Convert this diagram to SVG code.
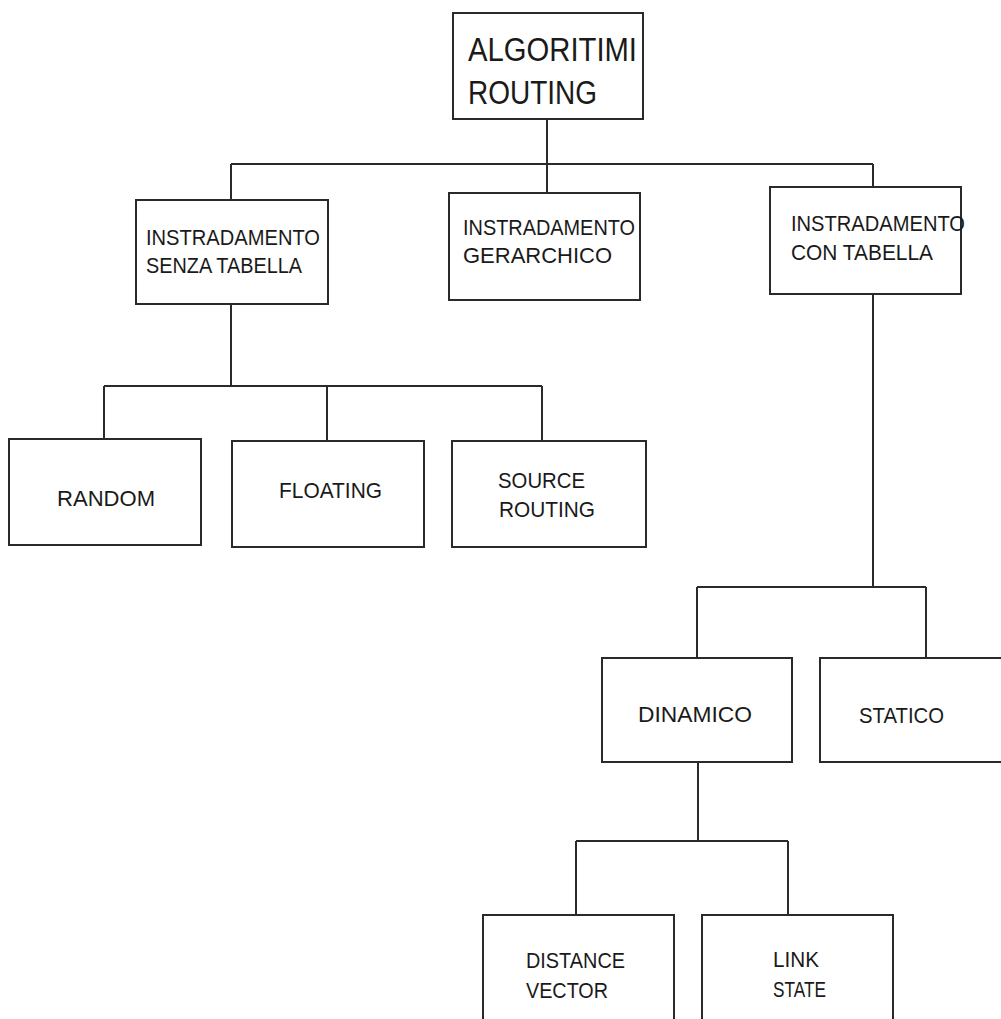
<svg xmlns="http://www.w3.org/2000/svg" width="1001" height="1019" viewBox="0 0 1001 1019">
<style>
.box{fill:#fff;stroke:#2a2a2a;stroke-width:2}
.ln{fill:none;stroke:#2a2a2a;stroke-width:2}
text{font-family:"Liberation Sans","DejaVu Sans",sans-serif;fill:#1a1a1a;font-size:22px}
.big{font-size:34px}
</style>
<rect width="1001" height="1019" fill="#fff"/>
<g id="connectors">
<path class="ln" d="M547 119V164M231 164H873M231 164V200M547 164V193M873 164V187"/>
<path class="ln" d="M231 304V386M104 386H542M104 386V439M327 386V441M542 386V441"/>
<path class="ln" d="M873 294V587M697 587H926M697 587V658M926 587V658"/>
<path class="ln" d="M698 762V841M576 841H788M576 841V915M788 841V915"/>
</g>
<g id="root">
<rect class="box" x="453" y="13" width="190" height="106"/>
<text class="big" x="468" y="61" textLength="169" lengthAdjust="spacingAndGlyphs">ALGORITIMI</text>
<text class="big" x="468" y="104" textLength="129" lengthAdjust="spacingAndGlyphs">ROUTING</text>
</g>
<g id="senza">
<rect class="box" x="136" y="200" width="192" height="104"/>
<text x="146" y="245" textLength="174" lengthAdjust="spacingAndGlyphs">INSTRADAMENTO</text>
<text x="146" y="273" textLength="156" lengthAdjust="spacingAndGlyphs">SENZA TABELLA</text>
</g>
<g id="gerarchico">
<rect class="box" x="449" y="193" width="191" height="107"/>
<text x="463" y="235" textLength="172" lengthAdjust="spacingAndGlyphs">INSTRADAMENTO</text>
<text x="463" y="263" textLength="149" lengthAdjust="spacingAndGlyphs">GERARCHICO</text>
</g>
<g id="con-tabella">
<rect class="box" x="770" y="187" width="191" height="107"/>
<text x="791" y="231" textLength="174" lengthAdjust="spacingAndGlyphs">INSTRADAMENTO</text>
<text x="791" y="260" textLength="142" lengthAdjust="spacingAndGlyphs">CON TABELLA</text>
</g>
<g id="random">
<rect class="box" x="9" y="439" width="192" height="106"/>
<text x="57" y="506" textLength="98" lengthAdjust="spacingAndGlyphs">RANDOM</text>
</g>
<g id="floating">
<rect class="box" x="232" y="441" width="192" height="106"/>
<text x="279" y="498" textLength="103" lengthAdjust="spacingAndGlyphs">FLOATING</text>
</g>
<g id="source-routing">
<rect class="box" x="452" y="441" width="194" height="106"/>
<text x="498" y="488" textLength="87" lengthAdjust="spacingAndGlyphs">SOURCE</text>
<text x="499" y="517" textLength="96" lengthAdjust="spacingAndGlyphs">ROUTING</text>
</g>
<g id="dinamico">
<rect class="box" x="602" y="658" width="190" height="104"/>
<text x="638" y="722" textLength="114" lengthAdjust="spacingAndGlyphs">DINAMICO</text>
</g>
<g id="statico">
<rect class="box" x="820" y="658" width="200" height="104"/>
<text x="859" y="723" textLength="85" lengthAdjust="spacingAndGlyphs">STATICO</text>
</g>
<g id="distance-vector">
<rect class="box" x="483" y="915" width="191" height="120"/>
<text x="526" y="968" textLength="99" lengthAdjust="spacingAndGlyphs">DISTANCE</text>
<text x="526" y="998" textLength="82" lengthAdjust="spacingAndGlyphs">VECTOR</text>
</g>
<g id="link-state">
<rect class="box" x="702" y="915" width="191" height="120"/>
<text x="773" y="967" textLength="46" lengthAdjust="spacingAndGlyphs">LINK</text>
<text x="773" y="997" textLength="53" lengthAdjust="spacingAndGlyphs">STATE</text>
</g>
</svg>
